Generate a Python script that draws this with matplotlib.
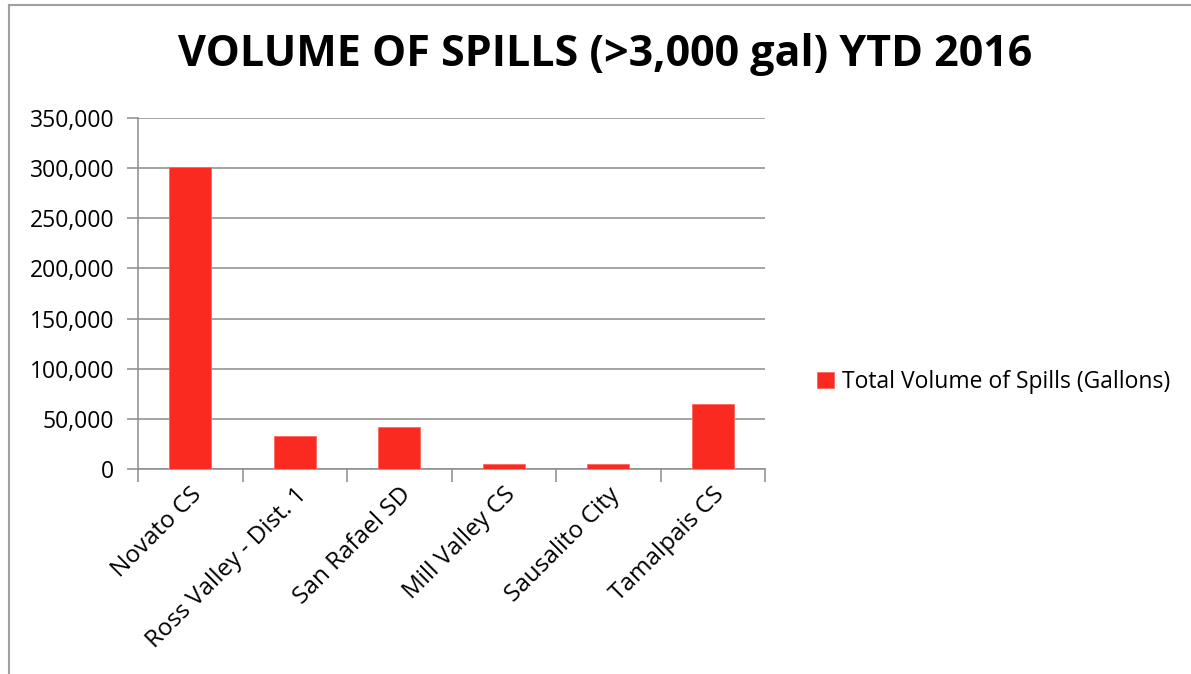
import matplotlib
matplotlib.use("Agg")
import matplotlib.pyplot as plt
from matplotlib.lines import Line2D
from matplotlib.ticker import FuncFormatter, MultipleLocator

categories = ["Novato CS", "Ross Valley - Dist. 1", "San Rafael SD", "Mill Valley CS",
              "Sausalito City", "Tamalpais CS"]
values = [301000, 33000, 42000, 5000, 5000, 65000]
series_name = "Total Volume of Spills (Gallons)"
title = "VOLUME OF SPILLS (>3,000 gal) YTD 2016"

plt.rcParams['font.family'] = ['Open Sans', 'DejaVu Sans']

fig = plt.figure(figsize=(11.91, 6.74), dpi=100)
fig.patch.set_facecolor('white')
ax = fig.add_axes([138/1191, 1 - 469/674, (765-138)/1191, (469-118)/674])

x = list(range(len(categories)))
ax.bar(x, values, width=0.4, color='#FA2A20', edgecolor='#FF6A60', linewidth=0.6,
       label=series_name, zorder=3)
ax.set_xlim(-0.5, len(categories) - 0.5)
ax.set_ylim(0, 350000)
ax.yaxis.set_major_locator(MultipleLocator(50000))
ax.yaxis.set_major_formatter(FuncFormatter(lambda v, p: f"{int(v):,}"))
ax.grid(axis='y', color='#8C8C8C', linewidth=1.1, zorder=0)
ax.set_axisbelow(True)

ax.set_xticks([i - 0.5 for i in range(len(categories) + 1)], minor=False)
ax.set_xticklabels([])
ax.set_xticks(x, minor=True)
ax.set_xticklabels(categories, minor=True, rotation=45, ha='right',
                   rotation_mode='anchor', fontsize=17.5)
ax.tick_params(axis='x', which='minor', length=0, pad=10)
ax.tick_params(axis='x', which='major', length=9, color='#8C8C8C', width=1.1)
ax.tick_params(axis='y', length=8, color='#8C8C8C', width=1.1, labelsize=16.5, pad=9)

for s in ['top', 'right']:
    ax.spines[s].set_visible(False)
for s in ['left', 'bottom']:
    ax.spines[s].set_color('#8C8C8C')
    ax.spines[s].set_linewidth(1.1)

fig.text(605/1191, 1 - 55/674, title, ha='center', va='center', fontsize=31,
         fontweight='bold')

leg = fig.legend(loc='center left', bbox_to_anchor=(796/1191, 1 - 382/674),
                 frameon=False, fontsize=16.5, handlelength=0.75, handleheight=0.75,
                 handletextpad=0.35)

fig.add_artist(Line2D([9/1191, 9/1191], [0, 1 - 5/674], transform=fig.transFigure,
                      color='#A0A0A0', linewidth=1.5))
fig.add_artist(Line2D([9/1191, 1], [1 - 5/674, 1 - 5/674], transform=fig.transFigure,
                      color='#A0A0A0', linewidth=1.5))

fig.savefig("out.png", dpi=100)
